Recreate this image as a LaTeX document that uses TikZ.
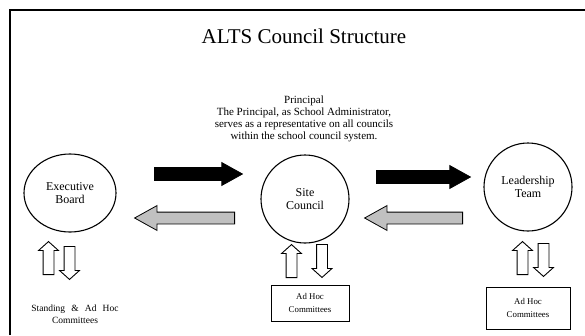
\documentclass[tikz,border=0pt]{standalone}
\usepackage{fontspec}
\setmainfont{Liberation Serif}
\usetikzlibrary{shapes.geometric,shapes.arrows,positioning}
\definecolor{arrowGray}{HTML}{C0C0C0}

\begin{document}
\begin{tikzpicture}[
    x=1pt, y=-1pt,
    council/.style={
        ellipse,
        draw=black,
        line width=1.1pt,
        fill=white,
        inner sep=0pt,
        align=center,
        font=\fontsize{12}{13.5}\selectfont
    },
    committee/.style={
        rectangle,
        draw=black,
        line width=1pt,
        fill=white,
        inner sep=0pt,
        align=center,
        font=\fontsize{8.8}{13.5}\selectfont
    },
    bigarrow/.style={
        single arrow,
        draw=black,
        line width=0.8pt,
        inner xsep=0pt,
        minimum width=0pt,
        single arrow tip angle=58,
        anchor=tail
    },
    linkarrow/.style={
        single arrow,
        draw=black,
        line width=0.9pt,
        fill=white,
        inner xsep=0pt,
        inner ysep=5pt,
        minimum width=0pt,
        minimum height=33pt,
        single arrow head extend=4.5pt,
        single arrow tip angle=96,
        anchor=tail
    }
]
\useasboundingbox (0,0) rectangle (585,335);

% -------------------- Frame ---------------------------------
\draw[line width=1.8pt] (10,335) -- (10,10) -- (585,10);

% -------------------- Title and Principal -------------------
\node[font=\fontsize{21}{24}\selectfont] (title) at (304,36) {ALTS Council Structure};

\node[align=center, font=\fontsize{11}{12}\selectfont] (principal) at (304,119) {
  Principal\\
  The Principal, as School Administrator,\\
  serves as a representative on all councils\\
  within the school council system.
};

% -------------------- Councils ------------------------------
\node[council, minimum width=92pt, minimum height=78pt] (exec) at (70,193) {Executive\\Board};
\node[council, minimum width=88pt, minimum height=88pt] (site) at (305,199) {Site\\Council};
\node[council, minimum width=88pt, minimum height=88pt] (lead) at (528,187) {Leadership\\Team};

% -------------------- Committees ----------------------------
\node[align=center, font=\fontsize{9.5}{12.5}\selectfont] (standing) at (75,314)
  {Standing\hspace{0.65em}\&\hspace{0.65em}Ad\hspace{0.65em}Hoc\\Committees};
\node[committee, minimum width=78pt, minimum height=36pt] (siteadhoc) at (310,303) {Ad Hoc\\Committees};
\node[committee, minimum width=84pt, minimum height=42pt] (leadadhoc) at (528,308) {Ad Hoc\\Committees};

% -------------------- Flows between councils ----------------
\node[bigarrow, fill=black, inner ysep=6pt, single arrow head extend=5pt,
      minimum height=88pt] (toSite) at (154,174) {};
\node[bigarrow, fill=arrowGray, inner ysep=5.5pt, single arrow head extend=6.5pt,
      minimum height=100pt, rotate=180] (toExec) at (235,218) {};
\node[bigarrow, fill=black, inner ysep=6pt, single arrow head extend=5pt,
      minimum height=94pt] (toLead) at (376,177) {};
\node[bigarrow, fill=arrowGray, inner ysep=5.5pt, single arrow head extend=6.5pt,
      minimum height=98pt, rotate=180] (toSiteBack) at (463,218) {};

% -------------------- Flows to committees -------------------
\node[linkarrow, rotate=90] (execUp) at (48.5,275) {};
\node[linkarrow, rotate=-90] (execDown) at (69.5,246) {};
\node[linkarrow, rotate=90] (siteUp) at (291.5,278) {};
\node[linkarrow, rotate=-90] (siteDown) at (322,244) {};
\node[linkarrow, rotate=90] (leadUp) at (522.5,275) {};
\node[linkarrow, rotate=-90] (leadDown) at (543.5,243) {};

\end{tikzpicture}
\end{document}
